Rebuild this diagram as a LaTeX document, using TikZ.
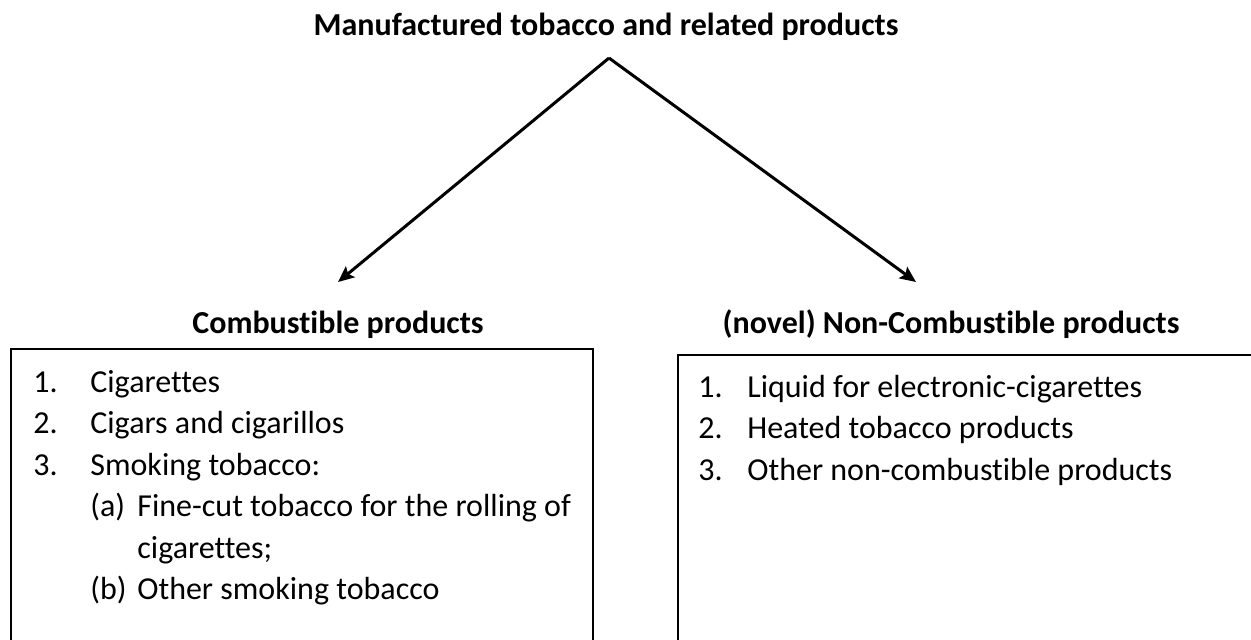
\documentclass[tikz,border=0pt]{standalone}
\usepackage{fontspec}
\setmainfont{Carlito}[Ligatures=NoCommon]
\usetikzlibrary{arrows.meta, positioning}
\newcommand{\sublabel}[1]{\makebox[23.5pt][l]{#1}}

\begin{document}
\begin{tikzpicture}[x=0.5pt, y=-0.5pt, >={Stealth[length=8pt, width=7pt, inset=1.5pt]},
    every node/.style={font=\fontsize{16pt}{20.75pt}\selectfont, inner sep=0pt},
    head/.style={font=\fontsize{16pt}{20.75pt}\selectfont\bfseries, anchor=base},
    listbox/.style={anchor=north west},
    frame/.style={line width=1pt},
    link/.style={->, line width=1.5pt}]
    \useasboundingbox (0,0) rectangle (1251,639);
    \clip (0,0) rectangle (1251,639);

    \node[head] (title) at (606,35) {Manufactured tobacco and related products};
    \coordinate (top) at (609,58);
    \coordinate (tipL) at (338,282);
    \coordinate (tipR) at (916,282);

    \node[head] (combHead) at (338,333) {Combustible products};
    \node[head] (novelHead) at (951,333) {(novel) Non-Combustible products};

    % open boxes, cut at the bottom edge
    \draw[frame] (11,349) rectangle (593,700);
    \draw[frame] (678,355) rectangle (1300,700);

    \node[listbox] (combList) at (33,363) {%
      \begin{tabular}{@{}p{28.5pt}@{}l@{}}
        1. & Cigarettes\\
        2. & Cigars and cigarillos\\
        3. & Smoking tobacco:\\
           & \sublabel{(a)}Fine-cut tobacco for the rolling of\\
           & \sublabel{}cigarettes;\\
           & \sublabel{(b)}Other smoking tobacco
      \end{tabular}};
    \node[listbox] (novelList) at (698,368) {%
      \begin{tabular}{@{}p{24.5pt}@{}l@{}}
        1. & Liquid for electronic-cigarettes\\
        2. & Heated tobacco products\\
        3. & Other non-combustible products
      \end{tabular}};

    \draw[link] (top) -- (tipL);
    \draw[link] (top) -- (tipR);
\end{tikzpicture}
\end{document}
